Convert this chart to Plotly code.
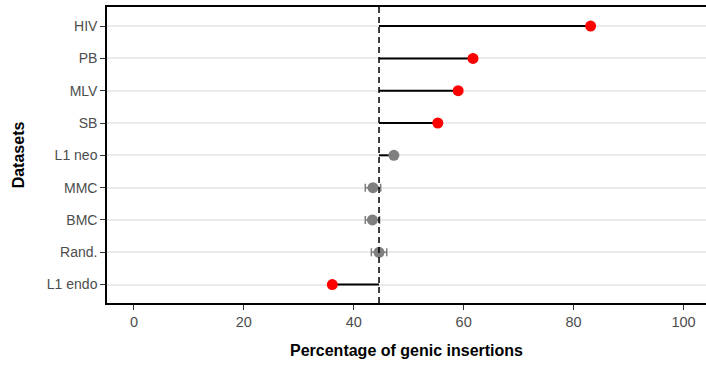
import plotly.graph_objects as go

datasets = ["L1 endo", "Rand.", "BMC", "MMC", "L1 neo", "SB", "MLV", "PB", "HIV"]
pct_genic = [36.1, 44.6, 43.4, 43.5, 47.3, 55.3, 59.0, 61.7, 83.1]
err = [0, 1.4, 1.3, 1.4, 0, 0, 0, 0, 0]
significant = [True, False, False, False, False, True, True, True, True]
random_ref = 44.6

FONT = "Liberation Sans, Arial, Helvetica, sans-serif"

seg_x, seg_y = [], []
for d, v in zip(datasets, pct_genic):
    seg_x += [random_ref, v, None]
    seg_y += [d, d, None]

colors = ["#FF0000" if s else "#7F7F7F" for s in significant]

fig = go.Figure()
fig.add_trace(go.Scatter(x=seg_x, y=seg_y, mode="lines",
                         line=dict(color="black", width=2), hoverinfo="skip",
                         showlegend=False))
fig.add_trace(go.Scatter(
    x=pct_genic, y=datasets, mode="markers",
    marker=dict(color=colors, size=11),
    error_x=dict(type="data", array=err, visible=True, color="#7F7F7F",
                 thickness=1.5, width=4),
    showlegend=False))

fig.add_shape(type="line", xref="x", yref="paper", x0=random_ref, x1=random_ref,
              y0=0, y1=1, line=dict(color="black", width=1.5, dash="6px,4px"))

fig.update_layout(
    width=706, height=365,
    margin=dict(l=107, r=0, t=7, b=62),
    plot_bgcolor="white", paper_bgcolor="white",
    font=dict(family=FONT, size=14, color="#4D4D4D"),
)
fig.update_xaxes(
    range=[-4.9, 104.1], tickvals=[0, 20, 40, 60, 80, 100],
    showgrid=False, zeroline=False,
    showline=True, linecolor="black", linewidth=1.5, mirror=True,
    ticks="outside", ticklen=5, tickcolor="#333333", tickwidth=1.2,
    tickfont=dict(size=14.5, color="#4D4D4D"),
    title=dict(text="<b>Percentage of genic insertions</b>",
               font=dict(size=16, color="black"), standoff=16),
)
fig.update_yaxes(
    type="category", categoryorder="array", categoryarray=datasets,
    range=[-0.57, 8.59],
    showgrid=True, gridcolor="#EBEBEB", gridwidth=1.5, zeroline=False,
    showline=True, linecolor="black", linewidth=1.5,
    ticks="outside", ticklen=5, tickcolor="#333333", tickwidth=1.2,
    tickfont=dict(size=14, color="#4D4D4D"),
    title=dict(text="<b>Datasets</b>", font=dict(size=16, color="black"),
               standoff=18),
)

fig.write_html("out.html")
